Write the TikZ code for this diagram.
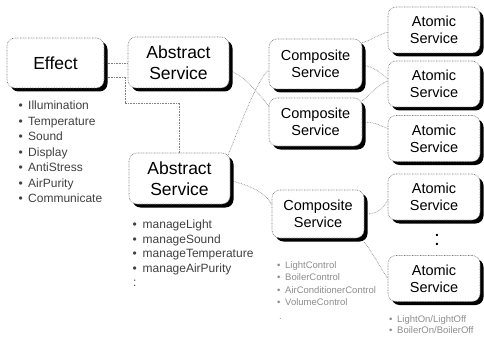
\documentclass[tikz,border=0pt]{standalone}
\usepackage{fontspec}
\setmainfont{Liberation Sans}
\usetikzlibrary{shadows,backgrounds}
\begin{document}
\begin{tikzpicture}[x=1pt,y=-1pt,
  box/.style={draw=black!55, dash pattern=on 0.7pt off 0.9pt, line width=0.6pt,
    rounded corners=8pt, fill=white, align=center, inner sep=0pt,
    drop shadow={shadow xshift=3.5pt, shadow yshift=-3.5pt, fill=black, opacity=1}},
  bigbox/.style={box, font=\fontsize{17.5}{20.5}\selectfont},
  smallbox/.style={box, font=\fontsize{14.5}{17}\selectfont, minimum width=92pt, minimum height=46pt},
  conn/.style={draw=black!50, dash pattern=on 0.7pt off 0.9pt, line width=0.6pt},
  bul/.style={anchor=base west, inner sep=0pt, text=black!75, font=\fontsize{12}{14}\selectfont},
  tinybul/.style={anchor=base west, inner sep=0pt, text=black!45, font=\fontsize{9.5}{11}\selectfont},
]
\useasboundingbox (0,0) rectangle (484,342);

% boxes
\node[bigbox, minimum width=97pt, minimum height=50pt] (eff) at (55.5,63) {Effect};
\node[bigbox, minimum width=101pt, minimum height=51pt] (abs1) at (178.5,62.5) {Abstract\\Service};
\node[bigbox, minimum width=101pt, minimum height=51pt] (abs2) at (179.5,178.5) {Abstract\\Service};
\node[smallbox, minimum width=93pt, minimum height=50pt] (comp1) at (315.5,64) {Composite\\Service};
\node[smallbox, minimum width=93pt, minimum height=48pt] (comp2) at (315.5,122) {Composite\\Service};
\node[smallbox, minimum width=92pt, minimum height=48pt] (comp3) at (318,214) {Composite\\Service};
\node[smallbox] (at1) at (434,30) {Atomic\\Service};
\node[smallbox] (at2) at (434,84) {Atomic\\Service};
\node[smallbox] (at3) at (434,138.5) {Atomic\\Service};
\node[smallbox] (at4) at (434,197) {Atomic\\Service};
\node[smallbox] (at5) at (434,278.5) {Atomic\\Service};

% vertical dots between atomic services
\node[inner sep=0pt, anchor=base, font=\fontsize{21}{21}\selectfont] (vdots) at (437,245) {:};

% connectors
\begin{pgfonlayer}{background}
\draw[conn] (eff.east) -- (eff.east -| abs1.west);
\draw[conn] ([yshift=-14pt]eff.east) -- ++(21,0) -- ++(0,26) -| (abs2.north);
\draw[conn] ([yshift=-8pt]abs1.east) .. controls +(15,5) and +(-10,-12) .. ([yshift=16pt]comp2.west);
\draw[conn] ([xshift=-2pt,yshift=-2pt]abs2.north east) .. controls +(10,-25) and +(-12,10) .. ([yshift=-6pt]comp1.west);
\draw[conn] ([yshift=-2pt]abs2.east) .. controls +(20,5) and +(-5,-12) .. ([yshift=9pt]comp3.west);
\draw[conn] ([yshift=-4pt]comp1.north east) .. controls +(10,-3) and +(-10,3) .. ([yshift=-2pt]at1.west);
\draw[conn] ([yshift=-1pt]comp1.east) .. controls +(12,2) and +(-10,-8) .. ([yshift=5pt]at2.west);
\draw[conn] ([yshift=-3pt]comp2.north east) .. controls +(10,-8) and +(-10,4) .. ([yshift=3pt]at2.west);
\draw[conn] (comp2.east) .. controls +(12,0) and +(-10,-4) .. ([yshift=10pt]at3.west);
\draw[conn] (comp3.east) .. controls +(15,0) and +(-5,8) .. ([yshift=-3pt]at4.west);
\draw[conn] ([yshift=-4pt]comp3.south east) .. controls +(8,10) and +(-8,-12) .. (at5.west);
\end{pgfonlayer}

% lists
\foreach \t [count=\i] in {Illumination,Temperature,Sound,Display,AntiStress,AirPurity,Communicate}
  \node[bul] (eb\i) at (18.5,{109.5+15.5*(\i-1)}) {\makebox[9.5pt][l]{\textbullet}\t};
\foreach \t [count=\i] in {manageLight,manageSound,manageTemperature,manageAirPurity}
  \node[bul] (mb\i) at (132.5,{228.5+14.5*(\i-1)}) {\makebox[10pt][l]{\textbullet}\t};
\node[bul] (mdots) at (133,286) {:};
\foreach \t [count=\i] in {LightControl,BoilerControl,AirConditionerControl,VolumeControl}
  \node[tinybul] (cb\i) at (277,{268.5+12.3*(\i-1)}) {\makebox[8pt][l]{\textbullet}\t};
\node[tinybul] (cdots) at (279,319) {.};
\foreach \t [count=\i] in {LightOn/LightOff,BoilerOn/BoilerOff}
  \node[tinybul] (ab\i) at (389,{322.5+11*(\i-1)}) {\makebox[8pt][l]{\textbullet}\t};
\end{tikzpicture}
\end{document}
